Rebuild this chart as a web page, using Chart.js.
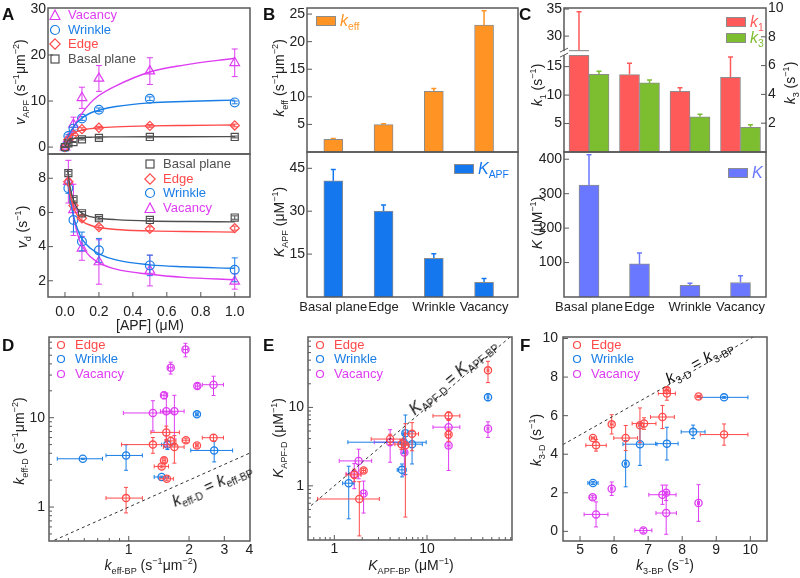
<!DOCTYPE html>
<html><head><meta charset="utf-8">
<script src="https://cdn.jsdelivr.net/npm/chart.js@4.4.1/dist/chart.umd.min.js"></script>
<style>
body{margin:0;background:#fff;}
#wrap{position:relative;width:800px;height:578px;overflow:hidden;font-family:"Liberation Sans",Arial,Helvetica,sans-serif;color:#222;background:#fff;}
canvas{position:absolute;}
.t{position:absolute;white-space:nowrap;font-size:14px;line-height:1;}
.yt{transform:translate(-50%,-50%) rotate(-90deg);}
.xt{transform:translate(-50%,-50%);}
.rt{position:absolute;white-space:nowrap;font-size:16px;line-height:1;color:#111;}
.lab{position:absolute;font-weight:bold;font-size:17px;line-height:1;color:#111;}
sub,sup{font-size:65%;line-height:0;}
.leg{position:absolute;font-size:13px;line-height:14px;white-space:nowrap;}
.box{position:absolute;border:1px solid #8c8c8c;box-sizing:border-box;}
</style></head><body><div id="wrap"></div>
<script>
// ---------------- DATA ----------------
const cats = ['Basal plane', 'Edge', 'Wrinkle', 'Vacancy'];
const catPos = [1, 2, 3, 4];

// Panel A (top): v_APF vs [APF]
const apfConc = [0, 0.02, 0.05, 0.1, 0.2, 0.5, 1.0];
const vApfBasal   = [0, 0.8, 1.1, 1.7, 2.0, 2.2, 2.2];
const vApfEdge    = [0, 1.6, 2.7, 3.9, 4.2, 4.6, 4.7];
const vApfWrinkle = [0, 2.4, 4.0, 6.2, 8.1, 10.5, 9.7];
const vApfVacancy = [0, 1.8, 4.9, 10.7, 14.9, 16.5, 18.3];
const vApfBasalErr   = [0.1, 0.1, 0.1, 0.15, 0.2, 0.2, 0.2];
const vApfEdgeErr    = [0.1, 0.2, 0.2, 0.3, 0.3, 0.3, 0.3];
const vApfWrinkleErr = [0.1, 0.3, 0.3, 0.4, 0.4, 0.4, 0.3];
const vApfVacancyErr = [0.2, 0.5, 1.6, 2.3, 2.8, 2.9, 3.0];
const fitTopX = [0, 0.02, 0.05, 0.1, 0.15, 0.2, 0.3, 0.5, 0.7, 1.0];
const fitVApfVacancy = [0, 1.9, 4.3, 7.3, 9.6, 11.2, 13.3, 16.3, 17.8, 19.3];
const fitVApfWrinkle = [0, 2.3, 4.4, 6.3, 7.4, 8.0, 8.8, 9.6, 9.9, 10.2];
const fitVApfEdge    = [0, 1.9, 3.0, 3.7, 4.0, 4.2, 4.4, 4.6, 4.7, 4.8];
const fitVApfBasal   = [0, 1.5, 1.9, 2.1, 2.15, 2.2, 2.22, 2.25, 2.26, 2.27];

// Panel A (bottom): v_d vs [APF]
const vdConc = [0.02, 0.05, 0.1, 0.2, 0.5, 1.0];
const vdBasal   = [8.3, 6.77, 5.95, 5.66, 5.56, 5.7];
const vdEdge    = [7.8, 6.4, 5.66, 5.14, 5.04, 5.08];
const vdWrinkle = [7.42, 5.56, 4.3, 3.78, 2.9, 2.64];
const vdVacancy = [7.8, 6.15, 3.9, 3.1, 2.6, 1.96];
const vdBasalErr   = [0.1, 0.1, 0.1, 0.1, 0.08, 0.1];
const vdEdgeErr    = [0.15, 0.2, 0.15, 0.12, 0.12, 0.12];
const vdWrinkleErr = [0.3, 0.7, 0.55, 0.7, 0.6, 0.7];
const vdVacancyErr = [1.25, 1.5, 0.7, 1.3, 0.9, 0.45];
const fitBotX = [0.015, 0.03, 0.05, 0.075, 0.1, 0.15, 0.2, 0.3, 0.5, 0.7, 1.0];
const fitVdBasal   = [8.5, 7.5, 6.7, 6.2, 5.95, 5.75, 5.66, 5.58, 5.5, 5.47, 5.45];
const fitVdEdge    = [8.1, 7.1, 6.3, 5.8, 5.5, 5.25, 5.12, 5.0, 4.92, 4.88, 4.85];
const fitVdWrinkle = [7.9, 6.8, 5.8, 5.0, 4.45, 3.9, 3.58, 3.22, 2.93, 2.82, 2.73];
const fitVdVacancy = [8.1, 7.0, 5.8, 4.7, 4.05, 3.4, 3.05, 2.68, 2.38, 2.2, 2.06];

// Panel B
const kEff = [2.3, 4.95, 11.0, 23.0];
const kEffErr = [0.15, 0.15, 0.5, 2.6];
const kApf = [40.6, 30.0, 13.5, 5.1];
const kApfErr = [4.0, 2.2, 1.6, 1.4];

// Panel C
const k1 = [27.2, 13.6, 10.65, 13.1];
const k1Err = [7.3, 2.0, 0.65, 3.6];
const k3 = [5.4, 4.8, 2.45, 1.72];
const k3Err = [0.2, 0.2, 0.17, 0.18];
const kK = [325, 96, 34, 42];
const kKErr = [88, 32, 6, 20];

// Panel D: k_eff-D vs k_eff-BP
const dEdgeX = [1.54, 1.32, 1.62, 1.69, 1.93, 2.65, 2.19, 1.5, 1.46, 1.55, 0.97];
const dEdgeY = [6.85, 5.0, 5.5, 4.7, 5.6, 5.97, 4.9, 3.33, 2.85, 2.07, 1.26];
const dEdgeXErr = [0.25, 0.4, 0.1, 0.2, 0.08, 0.32, 0.03, 0.03, 0.12, 0.12, 0.2];
const dEdgeYErr = [1.2, 1.0, 0.6, 1.6, 0.3, 0.5, 0.2, 0.2, 0.1, 0.1, 0.4];
const dWrinkleX = [2.19, 1.56, 2.67, 0.97, 0.59, 1.46];
const dWrinkleY = [10.9, 5.0, 4.3, 3.78, 3.47, 2.17];
const dWrinkleXErr = [0.03, 0.1, 0.63, 0.2, 0.15, 0.12];
const dWrinkleYErr = [0.4, 0.6, 1.1, 1.2, 0.05, 0.05];
const dVacancyX = [1.92, 1.62, 2.2, 2.65, 1.5, 1.32, 1.54, 1.69];
const dVacancyY = [58, 36.3, 22.6, 23.4, 17.8, 11.3, 11.8, 11.8];
const dVacancyXErr = [0.05, 0.04, 0.05, 0.32, 0.04, 0.38, 0.1, 0.2];
const dVacancyYErr = [10, 5.5, 1.5, 5.7, 1.5, 4.2, 7, 6];
const dDiag = [0.4, 4.1];

// Panel E: K_APF-D vs K_APF-BP
const eEdgeX = [45.5, 17.1, 17.1, 6.9, 4.0, 5.3, 5.84, 1.64, 2.07, 1.86];
const eEdgeY = [29.7, 7.8, 4.5, 4.6, 3.95, 3.4, 3.3, 1.38, 1.57, 0.68];
const eEdgeXErr = [1, 5.5, 0.8, 1.2, 1.5, 0.8, 0.5, 0.3, 0.1, 1.2];
const eEdgeYErr = [9, 1.0, 0.8, 1.8, 0.6, 0.5, 2.9, 0.25, 0.1, 0.45];
const eWrinkleX = [45.5, 5.84, 6.9, 5.6, 5.37, 1.43];
const eWrinkleY = [13.5, 4.7, 3.4, 3.6, 1.6, 1.08];
const eWrinkleXErr = [1, 0.3, 2.0, 4.2, 0.6, 0.2];
const eWrinkleYErr = [1.3, 3.3, 1.5, 1.0, 0.3, 0.7];
const eVacancyX = [45.5, 17.1, 17.1, 4.0, 5.7, 1.83, 2.07, 1.64];
const eVacancyY = [5.35, 5.6, 3.27, 3.6, 2.67, 2.08, 0.8, 1.42];
const eVacancyXErr = [1, 5.5, 0.6, 1.3, 0.3, 0.7, 0.1, 0.3];
const eVacancyYErr = [1.2, 1.6, 1.7, 1.6, 1.3, 0.85, 0.35, 0.5];
const eDiag = [0.5, 85];

// Panel F: k3-D vs k3-BP
const fEdgeX = [7.55, 7.55, 8.48, 7.42, 6.88, 6.76, 5.93, 6.34, 5.38, 5.47, 9.23];
const fEdgeY = [7.32, 7.15, 7.0, 5.93, 5.59, 5.5, 5.55, 4.84, 4.84, 4.46, 5.02];
const fEdgeXErr = [0.05, 0.25, 0.05, 0.35, 0.35, 0.05, 0.04, 0.35, 0.05, 0.3, 0.7];
const fEdgeYErr = [0.15, 0.35, 0.05, 0.6, 0.3, 0.9, 0.5, 0.65, 0.05, 0.3, 0.55];
const fWrinkleX = [9.23, 8.32, 7.55, 6.76, 6.34, 5.38];
const fWrinkleY = [6.95, 5.16, 4.55, 4.52, 3.51, 2.51];
const fWrinkleXErr = [0.7, 0.35, 0.33, 0.5, 0.03, 0.15];
const fWrinkleYErr = [0.05, 0.35, 0.85, 1.1, 1.2, 0.08];
const fVacancyX = [5.93, 5.37, 5.47, 6.86, 7.42, 7.53, 7.53, 8.48];
const fVacancyY = [2.21, 1.77, 0.88, 0.05, 1.9, 2.0, 0.95, 1.47];
const fVacancyXErr = [0.03, 0.1, 0.35, 0.25, 0.4, 0.05, 0.3, 0.03];
const fVacancyYErr = [0.35, 0.1, 0.65, 0.1, 0.5, 0.4, 1.1, 0.95];
const fDiag = [4.5, 10.6];

// ---------------- STYLE ----------------
const FONT = '"Liberation Sans", Arial, Helvetica, sans-serif';
const GRAY = '#4f4f4f', RED = '#ff4a4a', BLUE = '#1a7ee6', MAG = '#de3cf2';
const ORANGE = '#ff9424', BBLUE = '#1577ee', CRED = '#ff5a5a', CGREEN = '#7dbe31', KBLUE = '#6a78ff';
const BARBORDER = '#8c8c8c';
Chart.defaults.font.family = FONT;
Chart.defaults.font.size = 14;
Chart.defaults.color = '#222';
Chart.defaults.animation = false;
Chart.defaults.events = [];
Chart.defaults.plugins.legend.display = false;
Chart.defaults.plugins.tooltip.enabled = false;

const wrap = document.getElementById('wrap');
const xy = (xs, ys) => xs.map((x, i) => ({x: x, y: ys[i]}));

// broken linear scale (for k1 axis)
const LinScale = Chart.LinearScale || Chart.registry.getScale('linear');
class BrokenScale extends LinScale {
  _tf(v) { const b = this.options.brk; if (v <= b.lo) return v; if (v >= b.hi) return b.lo + (v - b.hi) * b.k; return b.lo; }
  getPixelForValue(v) { return super.getPixelForValue(this._tf(v)); }
  buildTicks() { return this.options.brk.ticks.map(v => ({value: v})); }
}
BrokenScale.id = 'broken';
BrokenScale.defaults = LinScale.defaults;
Chart.register(BrokenScale);

// frame + inner ticks
const framePlugin = {
  id: 'frame',
  afterDraw(chart) {
    const ctx = chart.ctx, a = chart.chartArea;
    ctx.save();
    ctx.strokeStyle = '#595959'; ctx.lineWidth = 1;
    Object.values(chart.scales).forEach(s => {
      if (!s.options.display || s.options.noTicks) return;
      s.ticks.forEach((t, i) => {
        const p = s.getPixelForTick(i);
        const major = t.label !== '' && t.label != null;
        const len = major ? 5 : 3;
        ctx.beginPath();
        if (s.position === 'left') { if (p < a.top + 1 || p > a.bottom - 1) return; ctx.moveTo(a.left, p); ctx.lineTo(a.left + len, p); }
        else if (s.position === 'right') { if (p < a.top + 1 || p > a.bottom - 1) return; ctx.moveTo(a.right, p); ctx.lineTo(a.right - len, p); }
        else if (s.position === 'bottom') { if (p < a.left + 1 || p > a.right - 1) return; ctx.moveTo(p, a.bottom); ctx.lineTo(p, a.bottom - len); }
        ctx.stroke();
      });
    });
    ctx.lineWidth = 1.5;
    ctx.strokeRect(a.left, a.top, a.right - a.left, a.bottom - a.top);
    ctx.restore();
  }
};

// error bars
const errPlugin = {
  id: 'errbars',
  beforeDatasetDraw(chart, args) {
    const ds = chart.data.datasets[args.index];
    if (!ds.errY && !ds.errX) return;
    const meta = args.meta;
    const xs = chart.scales[meta.xAxisID], ys = chart.scales[meta.yAxisID];
    const ctx = chart.ctx, a = chart.chartArea;
    const cap = ds.capW == null ? 3 : ds.capW;
    const lowVal = (s, v) => (s.type === 'logarithmic' && v <= 0) ? s.min * 0.5 : v;
    ctx.save();
    ctx.beginPath(); ctx.rect(a.left, a.top, a.right - a.left, a.bottom - a.top); ctx.clip();
    ctx.strokeStyle = ds.errColor || ds.borderColor; ctx.lineWidth = ds.errWidth || 1;
    meta.data.forEach((el, i) => {
      const d = ds.data[i];
      const px = el.x, py = el.y;
      ctx.beginPath();
      if (ds.errY && ds.errY[i]) {
        const e = ds.errY[i];
        const hi = ys.getPixelForValue(d.y + e);
        const lo = ds.upOnly ? py : ys.getPixelForValue(lowVal(ys, d.y - e));
        ctx.moveTo(px, lo); ctx.lineTo(px, hi);
        ctx.moveTo(px - cap, hi); ctx.lineTo(px + cap, hi);
        if (!ds.upOnly) { ctx.moveTo(px - cap, lo); ctx.lineTo(px + cap, lo); }
      }
      if (ds.errX && ds.errX[i]) {
        const e = ds.errX[i];
        const r = xs.getPixelForValue(d.x + e);
        const l = xs.getPixelForValue(lowVal(xs, d.x - e));
        ctx.moveTo(l, py); ctx.lineTo(r, py);
        ctx.moveTo(l, py - cap); ctx.lineTo(l, py + cap);
        ctx.moveTo(r, py - cap); ctx.lineTo(r, py + cap);
      }
      ctx.stroke();
    });
    ctx.restore();
  }
};

function mk(l, t, w, h, plot, cfg) {
  const c = document.createElement('canvas');
  c.width = w; c.height = h;
  c.style.left = l + 'px'; c.style.top = t + 'px'; c.style.width = w + 'px'; c.style.height = h + 'px';
  wrap.appendChild(c);
  const pl = plot[0], pt = plot[1], pr = plot[2], pb = plot[3];
  const sc = cfg.options.scales;
  const pad = {left: 0, top: pt - t, right: 0, bottom: 0};
  let hasRight = false, hasBottom = false;
  const zero = s => { s.paddingLeft = 0; s.paddingRight = 0; s.paddingTop = 0; s.paddingBottom = 0; };
  for (const k in sc) {
    const s = sc[k];
    if (s.display === false) continue;
    if (s.position === 'left') s.afterFit = q => { q.width = pl - l; zero(q); };
    if (s.position === 'right') { hasRight = true; s.afterFit = q => { q.width = l + w - pr; zero(q); }; }
    if (s.position === 'bottom') { hasBottom = true; s.afterFit = q => { q.height = t + h - pb; zero(q); }; }
  }
  if (!hasRight) pad.right = l + w - pr;
  if (!hasBottom) pad.bottom = t + h - pb;
  cfg.options.layout = {padding: pad};
  cfg.options.responsive = false;
  cfg.options.maintainAspectRatio = false;
  cfg.options.devicePixelRatio = 1;
  cfg.plugins = [framePlugin, errPlugin].concat(cfg.plugins || []);
  return new Chart(c, cfg);
}

const tickFont = {family: FONT, size: 14};
const noGrid = {display: false, drawTicks: false};
function lin(pos, extra) {
  return Object.assign({type: 'linear', position: pos, grid: noGrid, border: {display: false},
    ticks: Object.assign({font: tickFont, color: '#222', padding: 3, includeBounds: false}, extra.ticks || {})},
    Object.fromEntries(Object.entries(extra).filter(([k]) => k !== 'ticks')));
}
function catAxis(min, max, show) {
  return {type: 'linear', position: 'bottom', display: show, min: min, max: max, offset: false, noTicks: true,
    grid: {display: false, drawTicks: false, offset: false}, border: {display: false},
    afterBuildTicks: s => { s.ticks = catPos.map(v => ({value: v})); },
    ticks: {font: {family: FONT, size: 13}, color: '#222', padding: 3, autoSkip: false, maxRotation: 0,
      callback: v => cats[Math.round(v) - 1]}};
}
function decadeTicks(min, max) { // tick positions 1..9 x 10^n within range
  const out = [];
  for (let e = -2; e <= 3; e++) for (let m = 1; m <= 9; m++) {
    const v = +(m * Math.pow(10, e)).toPrecision(3);
    if (v >= min * 0.999 && v <= max * 1.001) out.push(v);
  }
  return out;
}
function logAxis(pos, min, max, labels, padding) {
  return {type: 'logarithmic', position: pos, min: min, max: max, grid: noGrid, border: {display: false},
    afterBuildTicks: s => { s.ticks = decadeTicks(min, max).map(v => ({value: v})); },
    ticks: {font: tickFont, color: '#222', padding: padding, autoSkip: false, maxRotation: 0,
      callback: v => labels.some(L => Math.abs(L - v) < 1e-6 * L) ? String(v) : ''}};
}
function curve(xs, ys, col) {
  return {type: 'line', data: xy(xs, ys), borderColor: col, borderWidth: 1.4, pointRadius: 0, fill: false,
    cubicInterpolationMode: 'monotone'};
}
function pts(xs, ys, err, col, style, r) {
  return {type: 'line', data: xy(xs, ys), showLine: false, borderColor: col, backgroundColor: 'rgba(255,255,255,0)',
    pointStyle: style, pointRadius: r, pointBorderWidth: 1.2, pointBorderColor: col, pointBackgroundColor: 'rgba(255,255,255,0)',
    errY: err, capW: 3};
}
function spts(xs, ys, xe, ye, col) {
  return {type: 'line', data: xy(xs, ys), showLine: false, borderColor: col, backgroundColor: 'rgba(255,255,255,0)',
    pointStyle: 'circle', pointRadius: 3.6, pointBorderWidth: 1.3, pointBorderColor: col, pointBackgroundColor: 'rgba(255,255,255,0)',
    errX: xe, errY: ye, capW: 2};
}
function diag(vals) {
  return {type: 'line', data: xy(vals, vals), borderColor: '#333', borderWidth: 1, borderDash: [3, 3], pointRadius: 0, fill: false};
}
function bars(vals, err, col, axisId, thick) {
  return {type: 'bar', data: xy(catPos, vals), backgroundColor: col, borderColor: BARBORDER, borderWidth: 1,
    barThickness: thick, yAxisID: axisId, errY: err, upOnly: true, errColor: col, errWidth: 1.5, capW: 2.5};
}

// ---------------- PANEL A ----------------
mk(0, 0, 262, 170, [48, 8, 250, 154], {
  type: 'line',
  data: {datasets: [
    curve(fitTopX, fitVApfBasal, GRAY), curve(fitTopX, fitVApfEdge, RED),
    curve(fitTopX, fitVApfWrinkle, BLUE), curve(fitTopX, fitVApfVacancy, MAG),
    pts(apfConc, vApfBasal, vApfBasalErr, GRAY, 'rect', 5),
    pts(apfConc, vApfEdge, vApfEdgeErr, RED, 'rectRot', 4.6),
    pts(apfConc, vApfWrinkle, vApfWrinkleErr, BLUE, 'circle', 4.4),
    pts(apfConc, vApfVacancy, vApfVacancyErr, MAG, 'triangle', 5.5)
  ]},
  options: {scales: {
    x: {type: 'linear', position: 'bottom', display: false, min: -0.1, max: 1.09},
    y: lin('left', {min: -1.5, max: 30.2, ticks: {stepSize: 10, padding: 2}})
  }}
});
mk(0, 140, 262, 190, [48, 154, 250, 297], {
  type: 'line',
  data: {datasets: [
    curve(fitBotX, fitVdBasal, GRAY), curve(fitBotX, fitVdEdge, RED),
    curve(fitBotX, fitVdWrinkle, BLUE), curve(fitBotX, fitVdVacancy, MAG),
    pts(vdConc, vdBasal, vdBasalErr, GRAY, 'rect', 5),
    pts(vdConc, vdEdge, vdEdgeErr, RED, 'rectRot', 4.6),
    pts(vdConc, vdWrinkle, vdWrinkleErr, BLUE, 'circle', 4.4),
    pts(vdConc, vdVacancy, vdVacancyErr, MAG, 'triangle', 5.5)
  ]},
  options: {scales: {
    x: lin('bottom', {min: -0.1, max: 1.09, ticks: {stepSize: 0.2, padding: 7, callback: v => v.toFixed(1)}}),
    y: lin('left', {min: 1.05, max: 9.42, ticks: {stepSize: 2, padding: 2}})
  }}
});

// ---------------- PANEL B ----------------
const hideZero = v => (v === 0 ? '' : String(v));
mk(262, 0, 270, 166, [307, 8, 518, 152], {
  type: 'bar',
  data: {datasets: [bars(kEff, kEffErr, ORANGE, 'y', 19)]},
  options: {scales: {
    x: catAxis(0.477, 4.675, false),
    y: lin('left', {min: 0, max: 26.1, ticks: {stepSize: 5, padding: 2, callback: hideZero}})
  }}
});
mk(262, 140, 270, 190, [307, 152, 518, 297], {
  type: 'bar',
  data: {datasets: [bars(kApf, kApfErr, BBLUE, 'y', 19)]},
  options: {scales: {
    x: catAxis(0.477, 4.675, true),
    y: lin('left', {min: 0, max: 50.7, ticks: {stepSize: 15, padding: 2, callback: hideZero}})
  }}
});

// ---------------- PANEL C ----------------
const breakPlugin = {
  id: 'brk',
  afterDraw(chart) {
    const ctx = chart.ctx, a = chart.chartArea, ys = chart.scales.y;
    const yb = ys.getPixelForValue(ys.options.brk.lo) - 1;
    const el = chart.getDatasetMeta(0).data[0];
    ctx.save();
    ctx.fillStyle = '#fff';
    ctx.fillRect(el.x - el.width / 2 - 1, yb - 2, el.width + 2, 4);
    ctx.strokeStyle = BARBORDER; ctx.lineWidth = 1;
    ctx.beginPath();
    ctx.moveTo(el.x - el.width / 2, yb - 2.5); ctx.lineTo(el.x + el.width / 2, yb - 2.5);
    ctx.moveTo(el.x - el.width / 2, yb + 2.5); ctx.lineTo(el.x + el.width / 2, yb + 2.5);
    ctx.stroke();
    ctx.fillRect(a.left - 5, yb - 2, 10, 4);
    ctx.strokeStyle = '#595959'; ctx.lineWidth = 1;
    ctx.beginPath();
    ctx.moveTo(a.left - 4, yb - 1); ctx.lineTo(a.left + 4, yb - 5);
    ctx.moveTo(a.left - 4, yb + 4); ctx.lineTo(a.left + 4, yb);
    ctx.stroke();
    ctx.restore();
  }
};
mk(530, 0, 270, 166, [564, 8, 766, 152], {
  type: 'bar',
  data: {datasets: [bars(k1, k1Err, CRED, 'y', 20), bars(k3, k3Err, CGREEN, 'y2', 20)]},
  options: {scales: {
    x: catAxis(0.505, 4.505, false),
    y: {type: 'broken', position: 'left', min: 0, max: 25.3,
        brk: {lo: 17.2, hi: 26.67, k: 0.95, ticks: [5, 10, 15, 30, 35]},
        grid: noGrid, border: {display: false},
        ticks: {font: tickFont, color: '#222', padding: 2, callback: v => String(v)}},
    y2: lin('right', {min: 0, max: 10, ticks: {stepSize: 2, padding: 2, callback: hideZero}})
  }},
  plugins: [breakPlugin]
});
mk(530, 140, 270, 190, [564, 152, 766, 297], {
  type: 'bar',
  data: {datasets: [bars(kK, kKErr, KBLUE, 'y', 20)]},
  options: {scales: {
    x: catAxis(0.505, 4.505, true),
    y: lin('left', {min: 0, max: 421, ticks: {stepSize: 100, padding: 2, callback: hideZero}})
  }}
});

// ---------------- PANEL D ----------------
mk(0, 322, 262, 256, [49, 337, 250, 541], {
  type: 'line',
  data: {datasets: [
    diag(dDiag),
    spts(dEdgeX, dEdgeY, dEdgeXErr, dEdgeYErr, RED),
    spts(dWrinkleX, dWrinkleY, dWrinkleXErr, dWrinkleYErr, BLUE),
    spts(dVacancyX, dVacancyY, dVacancyXErr, dVacancyYErr, MAG)
  ]},
  options: {scales: {
    x: logAxis('bottom', 0.4, 4.03, [1, 2, 3, 4], 1),
    y: logAxis('left', 0.417, 80, [1, 10], 4)
  }}
});
// ---------------- PANEL E ----------------
mk(262, 322, 265, 256, [308, 337, 512, 540], {
  type: 'line',
  data: {datasets: [
    diag(eDiag),
    spts(eEdgeX, eEdgeY, eEdgeXErr, eEdgeYErr, RED),
    spts(eWrinkleX, eWrinkleY, eWrinkleXErr, eWrinkleYErr, BLUE),
    spts(eVacancyX, eVacancyY, eVacancyXErr, eVacancyYErr, MAG)
  ]},
  options: {scales: {
    x: logAxis('bottom', 0.52, 82.6, [1, 10], 1),
    y: logAxis('left', 0.204, 79, [1, 10], 4)
  }}
});
// ---------------- PANEL F ----------------
mk(527, 322, 273, 256, [563, 337, 767, 541], {
  type: 'line',
  data: {datasets: [
    diag(fDiag),
    spts(fEdgeX, fEdgeY, fEdgeXErr, fEdgeYErr, RED),
    spts(fWrinkleX, fWrinkleY, fWrinkleXErr, fWrinkleYErr, BLUE),
    spts(fVacancyX, fVacancyY, fVacancyXErr, fVacancyYErr, MAG)
  ]},
  options: {scales: {
    x: lin('bottom', {min: 4.5, max: 10.49, ticks: {stepSize: 1, padding: 1}}),
    y: lin('left', {min: -0.5, max: 10.08, ticks: {stepSize: 2, padding: 5}})
  }}
});

// ---------------- TEXT OVERLAYS ----------------
function html(cls, x, y, inner, extra) {
  const d = document.createElement('div');
  d.className = cls; d.innerHTML = inner;
  d.style.left = x + 'px'; d.style.top = y + 'px';
  if (extra) Object.assign(d.style, extra);
  wrap.appendChild(d); return d;
}
// panel letters
[['A', 2, 6], ['B', 263, 6], ['C', 519, 6], ['D', 2, 337], ['E', 263, 337], ['F', 520, 337]]
  .forEach(([s, x, y]) => html('lab', x, y, s));
// axis titles
const yT = (x, y, s) => html('t yt', x, y, s);
const xT = (x, y, s) => html('t xt', x, y, s);
yT(20, 82, '<i>v</i><sub>APF</sub> (s<sup>−1</sup>μm<sup>−2</sup>)');
yT(22, 227, '<i>v</i><sub>d</sub> (s<sup>−1</sup>)');
xT(150, 325, '[APF] (μM)');
yT(279, 78, '<i>k</i><sub>eff</sub> (s<sup>−1</sup>μm<sup>−2</sup>)');
yT(279, 222, '<i>K</i><sub>APF</sub> (μM<sup>−1</sup>)');
yT(537, 85, '<i>k</i><sub>1</sub> (s<sup>−1</sup>)');
yT(790, 83, '<i>k</i><sub>3</sub> (s<sup>−1</sup>)');
yT(537, 223, '<i>K</i> (μM<sup>−1</sup>)');
yT(19, 441, '<i>k</i><sub>eff-D</sub> (s<sup>−1</sup>μm<sup>−2</sup>)');
xT(151, 565, '<i>k</i><sub>eff-BP</sub> (s<sup>−1</sup>μm<sup>−2</sup>)');
yT(278, 438, '<i>K</i><sub>APF-D</sub> (μM<sup>−1</sup>)');
xT(411, 565, '<i>K</i><sub>APF-BP</sub> (μM<sup>−1</sup>)');
yT(536, 440, '<i>k</i><sub>3-D</sub> (s<sup>−1</sup>)');
xT(665, 565, '<i>k</i><sub>3-BP</sub> (s<sup>−1</sup>)');

// legends with markers
function marker(shape, col, size) {
  const s = size || 12, c = s / 2;
  let el;
  if (shape === 'triangle') el = `<polygon points="${c},1 ${s - 1},${s - 1.5} 1,${s - 1.5}" />`;
  else if (shape === 'circle') el = `<circle cx="${c}" cy="${c}" r="${c - 1.5}" />`;
  else if (shape === 'diamond') el = `<polygon points="${c},0.8 ${s - 0.8},${c} ${c},${s - 0.8} 0.8,${c}" />`;
  else el = `<rect x="2" y="2" width="${s - 4}" height="${s - 4}" />`;
  return `<svg width="${s}" height="${s}" style="position:absolute;left:0;top:${(14 - s) / 2}px" fill="none" stroke="${col}" stroke-width="1.2">${el}</svg>`;
}
function legRow(x, y, shape, col, text, msize) {
  html('leg', x - 6, y - 7, marker(shape, col, msize) + `<span style="position:absolute;left:19px;top:0;color:${col}">${text}</span>`);
}
const rowsATop = [['triangle', MAG, 'Vacancy'], ['circle', BLUE, 'Wrinkle'], ['diamond', RED, 'Edge'], ['rect', GRAY, 'Basal plane']];
rowsATop.forEach((r, i) => legRow(55, 15 + i * 14.5, r[0], r[1], r[2]));
const rowsABot = [['rect', GRAY, 'Basal plane'], ['diamond', RED, 'Edge'], ['circle', BLUE, 'Wrinkle'], ['triangle', MAG, 'Vacancy']];
rowsABot.forEach((r, i) => legRow(150, 164 + i * 14.5, r[0], r[1], r[2]));
const rowsScatter = [['circle', RED, 'Edge'], ['circle', BLUE, 'Wrinkle'], ['circle', MAG, 'Vacancy']];
[[61, 345], [320, 345], [577, 345]].forEach(([x, y]) =>
  rowsScatter.forEach((r, i) => legRow(x + 1, y + i * 14.4, r[0], r[1], r[2], 10)));

// bar legends
function barLeg(x, y, col, text) {
  html('box', x, y, '', {width: '20px', height: '10px', background: col});
  html('t', x + 24, y - 3, text, {color: col, fontSize: '16px'});
}
barLeg(316, 16, ORANGE, '<i>k</i><sub>eff</sub>');
barLeg(454, 164, BBLUE, '<i>K</i><sub>APF</sub>');
barLeg(726, 17, CRED, '<i>k</i><sub>1</sub>');
barLeg(726, 33, CGREEN, '<i>k</i><sub>3</sub>');
barLeg(728, 168, KBLUE, '<i>K</i>');

// rotated identity-line labels
function rot(x, y, deg, s) {
  html('rt', x, y, s, {transform: `translate(-50%,-50%) rotate(${deg}deg)`});
}
rot(212, 485, -24, '<i>k</i><sub>eff-D</sub> = <i>k</i><sub>eff-BP</sub>');
rot(453, 377, -40, '<i>K</i><sub>APF-D</sub> = <i>K</i><sub>APF-BP</sub>');
rot(699, 362, -29.5, '<i>k</i><sub>3-D</sub> = <i>k</i><sub>3-BP</sub>');
</script></body></html>
